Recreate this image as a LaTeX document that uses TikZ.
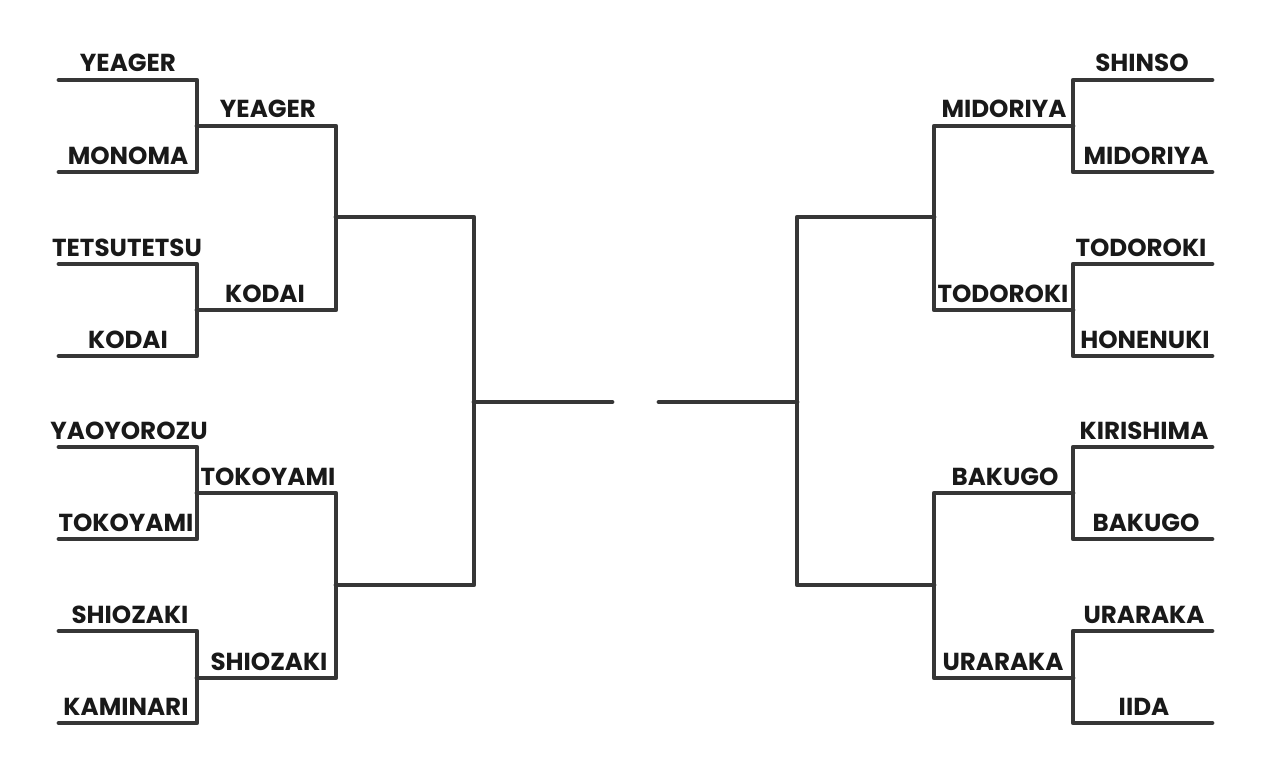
\documentclass[tikz,border=0pt]{standalone}
\usepackage{fontspec}
\setmainfont{Poppins}
\usepackage{xcolor}
\definecolor{ink}{HTML}{363636}

\begin{document}
\begin{tikzpicture}[x=0.5pt,y=-0.5pt,
        line/.style={draw=ink,line width=2.4pt,line cap=round,line join=round},
        name node/.style={anchor=base,inner sep=0pt,text=black!90,font=\bfseries\fontsize{12.3}{12.3}\selectfont}]
    \useasboundingbox (0,0) rectangle (1280,781);

    % left half
    \coordinate (a1) at (59,80);
    \coordinate (a2) at (59,172);
    \coordinate (a3) at (59,264);
    \coordinate (a4) at (59,356);
    \coordinate (a5) at (59,447);
    \coordinate (a6) at (59,539);
    \coordinate (a7) at (59,631);
    \coordinate (a8) at (59,723);
    \coordinate (b1) at (197,126);
    \coordinate (b2) at (197,310);
    \coordinate (b3) at (197,493);
    \coordinate (b4) at (197,678);
    \coordinate (c1) at (336,217);
    \coordinate (c2) at (336,585);
    \coordinate (d1) at (474,402);
    \coordinate (e1) at (612,402);

    \draw[line] (a1) -| (b1) |- (a2);
    \draw[line] (a3) -| (b2) |- (a4);
    \draw[line] (a5) -| (b3) |- (a6);
    \draw[line] (a7) -| (b4) |- (a8);
    \draw[line] (b1) -| (c1) |- (b2);
    \draw[line] (b3) -| (c2) |- (b4);
    \draw[line] (c1) -| (d1) |- (c2);
    \draw[line] (d1) -- (e1);

    \node[name node] (yeager) at (128,72) {YEAGER};
    \node[name node] (monoma) at (128,164) {MONOMA};
    \node[name node] (tetsutetsu) at (127,256) {TETSUTETSU};
    \node[name node] (kodai) at (128,348) {KODAI};
    \node[name node] (yaoyorozu) at (129,439) {YAOYOROZU};
    \node[name node] (tokoyami) at (126,531) {TOKOYAMI};
    \node[name node] (shiozaki) at (130,623) {SHIOZAKI};
    \node[name node] (kaminari) at (126,715) {KAMINARI};
    \node[name node] (yeager2) at (268,118) {YEAGER};
    \node[name node] (kodai2) at (265,302) {KODAI};
    \node[name node] (tokoyami2) at (268,485) {TOKOYAMI};
    \node[name node] (shiozaki2) at (269,670) {SHIOZAKI};

    % right half
    \coordinate (f1) at (659,402);
    \coordinate (g1) at (797,402);
    \coordinate (h1) at (934,217);
    \coordinate (h2) at (934,585);
    \coordinate (i1) at (1073,126);
    \coordinate (i2) at (1073,310);
    \coordinate (i3) at (1073,493);
    \coordinate (i4) at (1073,678);
    \coordinate (j1) at (1212,80);
    \coordinate (j2) at (1212,172);
    \coordinate (j3) at (1212,264);
    \coordinate (j4) at (1212,356);
    \coordinate (j5) at (1212,447);
    \coordinate (j6) at (1212,539);
    \coordinate (j7) at (1212,631);
    \coordinate (j8) at (1212,723);

    \draw[line] (f1) -- (g1);
    \draw[line] (h1) -| (g1) |- (h2);
    \draw[line] (i1) -| (h1) |- (i2);
    \draw[line] (i3) -| (h2) |- (i4);
    \draw[line] (j1) -| (i1) |- (j2);
    \draw[line] (j3) -| (i2) |- (j4);
    \draw[line] (j5) -| (i3) |- (j6);
    \draw[line] (j7) -| (i4) |- (j8);

    \node[name node] (midoriya2) at (1004,118) {MIDORIYA};
    \node[name node] (todoroki2) at (1003,302) {TODOROKI};
    \node[name node] (bakugo2) at (1005,485) {BAKUGO};
    \node[name node] (uraraka2) at (1003,670) {URARAKA};
    \node[name node] (shinso) at (1142,72) {SHINSO};
    \node[name node] (midoriya) at (1146,164) {MIDORIYA};
    \node[name node] (todoroki) at (1141,256) {TODOROKI};
    \node[name node] (honenuki) at (1145,348) {HONENUKI};
    \node[name node] (kirishima) at (1144,439) {KIRISHIMA};
    \node[name node] (bakugo) at (1146,531) {BAKUGO};
    \node[name node] (uraraka) at (1144,623) {URARAKA};
    \node[name node] (iida) at (1144,715) {IIDA};

\end{tikzpicture}
\end{document}
